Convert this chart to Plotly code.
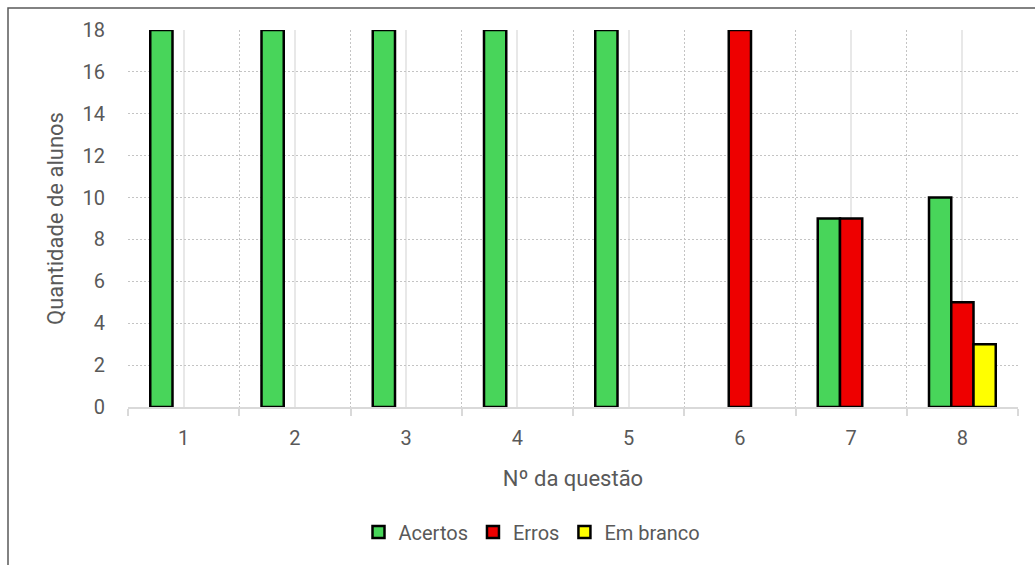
import plotly.graph_objects as go

# Questions and answer counts per series
questoes = [1, 2, 3, 4, 5, 6, 7, 8]
acertos = [18, 18, 18, 18, 18, 0, 9, 10]
erros = [0, 0, 0, 0, 0, 18, 9, 5]
em_branco = [0, 0, 0, 0, 0, 0, 0, 3]
y_ticks = [0, 2, 4, 6, 8, 10, 12, 14, 16, 18]

W, H = 1035, 565
ML, MR, MT, MB = 128, 17, 30, 158
PW, PH = W - ML - MR, H - MT - MB


def px_x(px):
    return (px - ML) / PW


def px_y(py):
    return (H - MB - py) / PH


def visible(vals):
    # zero counts leave an empty slot in the group
    return [v if v != 0 else None for v in vals]


FONT = "Roboto, Inter, sans-serif"
TXT = "#595959"
DOT = "2px,2px"

fig = go.Figure()
series = [
    ("Acertos", acertos, "#48D55A"),
    ("Erros", erros, "#EE0000"),
    ("Em branco", em_branco, "#FFFF00"),
]
for name, vals, color in series:
    fig.add_trace(go.Bar(
        x=questoes, y=visible(vals), name=name,
        marker=dict(color=color, line=dict(color="#000000", width=2.5)),
    ))

fig.update_layout(
    width=W, height=H,
    margin=dict(l=ML, r=MR, t=MT, b=MB),
    paper_bgcolor="white", plot_bgcolor="white",
    barmode="group", bargap=0.4, bargroupgap=0,
    font=dict(family=FONT, color=TXT, size=20),
    legend=dict(
        orientation="h", x=px_x(532), xanchor="center",
        y=px_y(532), yanchor="middle",
        font=dict(size=20, color=TXT), itemwidth=30,
        traceorder="normal",
    ),
    shapes=[dict(
        type="rect", xref="paper", yref="paper",
        x0=px_x(8), x1=px_x(1045), y0=px_y(575), y1=px_y(8),
        line=dict(color="#5a5a5a", width=1.5), fillcolor="rgba(0,0,0,0)",
        layer="below",
    )],
)

fig.update_xaxes(
    range=[0.5, 8.5], tickmode="array", tickvals=questoes,
    ticktext=[str(q) for q in questoes],
    tickfont=dict(size=20, color=TXT),
    showgrid=True, gridcolor="#e8e8e8", gridwidth=1.5,
    showline=True, linecolor="#d9d9d9", linewidth=1.5,
    ticks="", ticklabelstandoff=12, zeroline=False,
    minor=dict(tick0=0.5, dtick=1, showgrid=True, gridcolor="#c4c4c4",
               griddash=DOT, gridwidth=1, ticks="outside", ticklen=7,
               tickcolor="#d9d9d9", tickwidth=1.5),
    title=dict(text="Nº da questão", font=dict(size=22, color=TXT), standoff=22),
)
fig.update_yaxes(
    range=[0, 18], tickmode="array", tickvals=y_ticks,
    tickfont=dict(size=20, color=TXT),
    showgrid=True, gridcolor="#c4c4c4", griddash=DOT, gridwidth=1,
    showline=False, zeroline=False, ticks="", ticklabelstandoff=22,
    title=dict(text="Quantidade de alunos", font=dict(size=22, color=TXT), standoff=12),
)

fig.write_html("out.html")
